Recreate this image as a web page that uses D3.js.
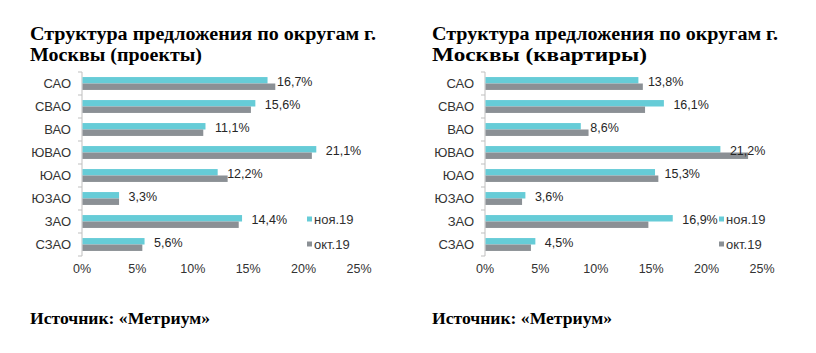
<!DOCTYPE html>
<html>
<head>
<meta charset="utf-8">
<script src="https://cdn.jsdelivr.net/npm/d3@7"></script>
<style>
  body { margin: 0; background: #fff; }
  svg { display: block; }
</style>
</head>
<body>
<svg id="chart" width="816" height="353"></svg>
<script>
const districts = ['САО', 'СВАО', 'ВАО', 'ЮВАО', 'ЮАО', 'ЮЗАО', 'ЗАО', 'СЗАО'];
const seriesNames = ['ноя.19', 'окт.19'];

// projects
const projectsNov = [16.7, 15.6, 11.1, 21.1, 12.2, 3.3, 14.4, 5.6];
const projectsOct = [17.4, 15.2, 10.9, 20.7, 13.1, 3.3, 14.1, 5.4];

// flats
const flatsNov = [13.8, 16.1, 8.6, 21.2, 15.3, 3.6, 16.9, 4.5];
const flatsOct = [14.2, 14.4, 9.3, 23.7, 15.6, 3.3, 14.7, 4.1];

const xTicks = [0, 5, 10, 15, 20, 25];

const colors = ['#66ccd7', '#8b9095'];

const svg = d3.select('#chart');

function drawChart(opt) {
  const g = svg.append('g');

  const x = d3.scaleLinear().domain([0, 25]).range([opt.x0, opt.x0 + 277]);
  const y = d3.scaleBand().domain(districts).range([72, 256]);
  const ySub = d3.scaleBand().domain(seriesNames)
    .range([y.bandwidth() * 0.22, y.bandwidth() * 0.78]);

  // title, two lines
  g.selectAll('.title').data(opt.title).enter()
    .append('text')
    .attr('x', opt.titleX)
    .attr('y', (d, i) => 40 + i * 21)
    .attr('textLength', (d, i) => opt.titleWidths[i])
    .attr('lengthAdjust', 'spacingAndGlyphs')
    .style('font', 'bold 18px "Liberation Serif", "Times New Roman", serif')
    .attr('fill', '#000')
    .text(d => d);

  // vertical axis
  g.append('line')
    .attr('x1', x(0)).attr('x2', x(0))
    .attr('y1', 72).attr('y2', 256)
    .attr('stroke', '#bfbfbf');

  g.selectAll('.cat-tick').data(d3.range(districts.length + 1)).enter()
    .append('line')
    .attr('x1', x(0) - 4).attr('x2', x(0))
    .attr('y1', i => 72 + i * y.step()).attr('y2', i => 72 + i * y.step())
    .attr('stroke', '#bfbfbf');

  g.selectAll('.cat').data(districts).enter()
    .append('text')
    .attr('x', x(0) - 11)
    .attr('y', d => y(d) + y.bandwidth() / 2)
    .attr('dy', '0.35em')
    .attr('text-anchor', 'end')
    .attr('fill', '#333')
    .style('font', '13px "Liberation Sans", Arial, sans-serif')
    .text(d => d);

  // x tick labels
  g.selectAll('.xt').data(xTicks).enter()
    .append('text')
    .attr('x', d => x(d))
    .attr('y', 273)
    .attr('text-anchor', 'middle')
    .attr('fill', '#333')
    .style('font', '12.5px "Liberation Sans", Arial, sans-serif')
    .text(d => d + '%');

  // bars
  const series = [opt.nov, opt.oct];
  series.forEach(function(vals, s) {
    g.selectAll('.bar' + s).data(vals).enter()
      .append('rect')
      .attr('x', x(0) + 0.5)
      .attr('y', (d, i) => y(districts[i]) + ySub(seriesNames[s]))
      .attr('width', d => x(d) - x(0))
      .attr('height', ySub.bandwidth())
      .attr('fill', colors[s]);
  });

  // value labels (november)
  g.selectAll('.val').data(opt.nov).enter()
    .append('text')
    .attr('x', d => x(d) + 10)
    .attr('y', (d, i) => y(districts[i]) + ySub('ноя.19') + ySub.bandwidth() / 2 + 1)
    .attr('dy', '0.35em')
    .attr('fill', '#262626')
    .style('font', '12.5px "Liberation Sans", Arial, sans-serif')
    .text(d => d3.format('.1f')(d).replace('.', ',') + '%');

  // legend
  const leg = g.selectAll('.leg').data(seriesNames).enter()
    .append('g')
    .attr('transform', (d, i) => `translate(${opt.legendX},${219 + i * 25})`);
  leg.append('rect')
    .attr('x', 0).attr('y', -2.5)
    .attr('width', 5).attr('height', 5)
    .attr('fill', (d, i) => colors[i]);
  leg.append('text')
    .attr('x', 7).attr('y', 0)
    .attr('dy', '0.35em')
    .attr('fill', '#333')
    .style('font', '13px "Liberation Sans", Arial, sans-serif')
    .text(d => d);

  // source
  g.append('text')
    .attr('x', opt.titleX).attr('y', 324)
    .attr('textLength', 180)
    .attr('lengthAdjust', 'spacingAndGlyphs')
    .style('font', 'bold 16.5px "Liberation Serif", "Times New Roman", serif')
    .attr('fill', '#000')
    .text('Источник: «Метриум»');
}

drawChart({
  x0: 82, titleX: 30, legendX: 307,
  title: ['Структура предложения по округам г.', 'Москвы (проекты)'],
  titleWidths: [346, 172],
  nov: projectsNov, oct: projectsOct
});

drawChart({
  x0: 485, titleX: 432, legendX: 719,
  title: ['Структура предложения по округам г.', 'Москвы (квартиры)'],
  titleWidths: [346, 215],
  nov: flatsNov, oct: flatsOct
});
</script>
</body>
</html>
